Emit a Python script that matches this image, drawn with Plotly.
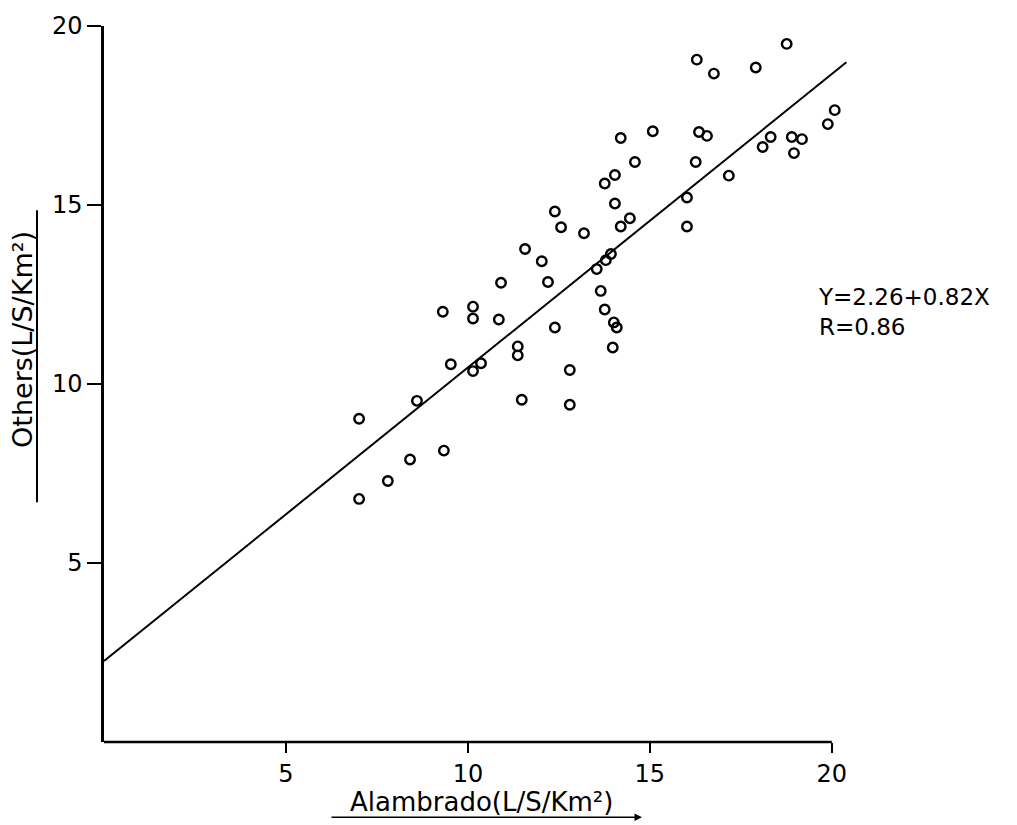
import plotly.graph_objects as go

# Observed data (Alambrado vs Others, L/S/Km²)
alambrado = [7.01, 7.01, 7.80, 8.41, 8.60, 9.31, 9.34, 9.53, 10.14, 10.14,
             10.14, 10.36, 10.85, 10.91, 11.37, 11.37, 11.48, 11.57, 12.03, 12.20,
             12.39, 12.39, 12.56, 12.80, 12.80, 13.19, 13.54, 13.65, 13.76, 13.76,
             13.79, 13.93, 14.01, 14.09, 13.98, 14.04, 14.04, 14.20, 14.20, 14.45,
             14.59, 15.08, 16.02, 16.02, 16.26, 16.29, 16.35, 16.57, 16.76, 17.17,
             17.91, 18.10, 18.32, 18.76, 18.90, 18.96, 19.18, 19.89, 20.08]
others = [9.03, 6.79, 7.29, 7.89, 9.53, 12.02, 8.14, 10.55, 12.16, 11.83,
          10.36, 10.58, 11.80, 12.83, 11.05, 10.80, 9.56, 13.77, 13.43, 12.85,
          14.82, 11.58, 14.38, 10.39, 9.42, 14.21, 13.21, 12.60, 12.08, 15.60,
          13.46, 13.63, 11.72, 11.58, 11.02, 15.04, 15.84, 14.40, 16.87, 14.63,
          16.20, 17.06, 14.40, 15.21, 16.20, 19.06, 17.04, 16.93, 18.67, 15.82,
          18.84, 16.62, 16.90, 19.50, 16.90, 16.45, 16.84, 17.26, 17.65]

# Regression line as stated on the chart
intercept = 2.26
slope = 0.82
line_x = [0.0, 20.4]
line_y = [intercept + slope * v for v in line_x]

tick_vals = [5, 10, 15, 20]
tick_text = ["5", "10", "15", "20"]
axis_max = 20

font_family = "DejaVu Sans, Liberation Sans, sans-serif"

# layout geometry (pixels)
L, T = 104, 19
PLOT_W = 746
PLOT_H = 723
R = 1017 - L - PLOT_W
B = 825 - T - PLOT_H


def px(xp):
    return (xp - L) / PLOT_W


def py(yp):
    return (T + PLOT_H - yp) / PLOT_H


fig = go.Figure()
fig.add_trace(go.Scatter(
    x=line_x, y=line_y, mode="lines",
    line=dict(color="black", width=2), cliponaxis=False, showlegend=False,
    hoverinfo="skip"))
fig.add_trace(go.Scatter(
    x=alambrado, y=others, mode="markers",
    marker=dict(symbol="circle-open", size=9.5, color="black",
                line=dict(color="black", width=2.4)),
    cliponaxis=False, showlegend=False))

axis_common = dict(
    showgrid=False, zeroline=False,
    linecolor="black", linewidth=2.5, ticks="outside", tickcolor="black",
    tickwidth=2, tickvals=tick_vals, ticktext=tick_text,
    tickfont=dict(family=font_family, size=24, color="black"))

fig.update_layout(
    width=1017, height=825,
    margin=dict(l=L, r=R, t=T, b=B),
    paper_bgcolor="white", plot_bgcolor="white",
    xaxis=dict(**axis_common, range=[0, 20.5], showline=False, ticklen=10),
    yaxis=dict(**axis_common, range=[0, 20], showline=True, ticklen=14),
    font=dict(family=font_family, color="black"),
)

# x axis line ending at the last tick
fig.add_shape(type="line", xref="x", yref="paper", x0=0, x1=axis_max, y0=0, y1=0,
              line=dict(color="black", width=2.5))

# Axis titles
fig.add_annotation(
    text="Alambrado(L/S/Km²)", xref="paper", yref="paper",
    x=px(481), y=py(803), showarrow=False,
    font=dict(size=26, family=font_family), xanchor="center", yanchor="middle")
fig.add_annotation(
    text="", xref="paper", yref="paper",
    x=px(642), y=py(818), showarrow=True,
    ax=-312, ay=0, arrowhead=2, arrowsize=1, arrowwidth=1.5, arrowcolor="black")

fig.add_annotation(
    text="Others(L/S/Km²)", xref="paper", yref="paper",
    x=px(23), y=py(336), showarrow=False, textangle=-90,
    font=dict(size=27, family=font_family), xanchor="center", yanchor="middle")
fig.add_shape(type="line", xref="paper", yref="paper",
              x0=px(37), x1=px(37), y0=py(500), y1=py(205),
              line=dict(color="black", width=2))

# Equation
fig.add_annotation(
    text="Y=2.26+0.82X<br>R=0.86", xref="paper", yref="paper",
    x=px(816), y=py(308), showarrow=False,
    align="left", xanchor="left", yanchor="middle",
    font=dict(size=23, family=font_family))

fig.write_html("out.html")
